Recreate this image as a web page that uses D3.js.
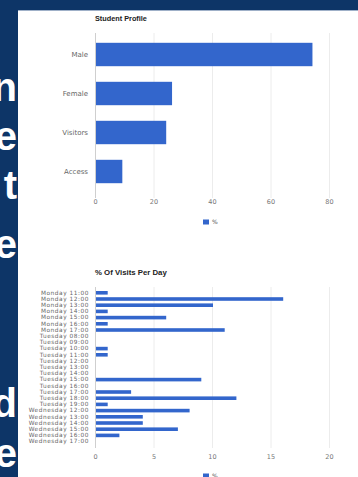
<!DOCTYPE html>
<html><head><meta charset="utf-8">
<script src="https://cdn.jsdelivr.net/npm/d3@7"></script>
<style>html,body{margin:0;padding:0;background:#0d3567;overflow:hidden}</style>
</head><body>
<svg id="c" width="358" height="477"></svg>
<script>
// ---- data ----
const profileCategories = ["Male", "Female", "Visitors", "Access"];
const profileValues = [74, 26, 24, 9];
const profileTicks = [0, 20, 40, 60, 80];

const visitLabels = [
  "Monday 11:00","Monday 12:00","Monday 13:00","Monday 14:00","Monday 15:00","Monday 16:00","Monday 17:00",
  "Tuesday 08:00","Tuesday 09:00","Tuesday 10:00","Tuesday 11:00","Tuesday 12:00","Tuesday 13:00","Tuesday 14:00",
  "Tuesday 15:00","Tuesday 16:00","Tuesday 17:00","Tuesday 18:00","Tuesday 19:00",
  "Wednesday 12:00","Wednesday 13:00","Wednesday 14:00","Wednesday 15:00","Wednesday 16:00","Wednesday 17:00"
];
const visitValues = [1,16,10,1,6,1,11, 0,0,1,1,0,0,0, 9,0,3,12,1, 8,4,4,7,2,0];
const visitTicks = [0, 5, 10, 15, 20];
const slideLetters = ["n","e","t","e","d","e"];
const slideBaselines = [101, 150, 199, 258, 417, 467];

const blue = "#3366cc";
const svg = d3.select("#c");
const FONT = "DejaVu Sans, Liberation Sans, Arial, sans-serif";

// slide background text fragments
svg.selectAll("text.slide").data(slideLetters).join("text")
  .attr("class","slide")
  .attr("x", 17).attr("y", (d,i)=>slideBaselines[i])
  .attr("text-anchor","end")
  .attr("font-family","Liberation Sans, Arial, sans-serif")
  .attr("font-weight","bold").attr("font-size", 40)
  .attr("fill","#ffffff").text(d=>d);

// white panel
svg.append("rect").attr("x",18).attr("y",10).attr("width",340).attr("height",467).attr("fill","#ffffff");
svg.append("line").attr("x1",18).attr("x2",358).attr("y1",10.5).attr("y2",10.5).attr("stroke","#9fb0c8").attr("stroke-width",1);

function chart(opts){
  const g = svg.append("g");
  const x = d3.scaleLinear().domain(opts.domain).range([95, 329]);
  const y = d3.scaleBand().domain(opts.cats).range(opts.yRange).paddingInner(opts.pad).paddingOuter(opts.pad/2);
  // gridlines
  g.selectAll("line.grid").data(opts.ticks).join("line")
    .attr("x1", d=>x(d)+0.5).attr("x2", d=>x(d)+0.5)
    .attr("y1", opts.gridY[0]).attr("y2", opts.gridY[1])
    .attr("stroke", d=> d===0 ? "#cfcfcf" : "#ececec").attr("stroke-width",1);
  // bars
  g.selectAll("rect.bar").data(opts.cats).join("rect")
    .attr("x", x(0)+1).attr("y", d=>y(d))
    .attr("width", (d,i)=>Math.max(0, x(opts.values[i]) - x(0)))
    .attr("height", y.bandwidth())
    .attr("fill", blue);
  // x axis labels
  const ax = d3.axisBottom(x).tickValues(opts.ticks).tickSize(0).tickPadding(0);
  const axG = g.append("g").attr("transform", `translate(0,${opts.axisY})`).call(ax);
  axG.select(".domain").remove();
  axG.selectAll("text").attr("fill","#777").attr("font-size",6.5).attr("font-family",FONT);
  // y axis labels
  const ay = d3.axisLeft(y).tickSize(0).tickPadding(0);
  const ayG = g.append("g").attr("transform", `translate(${opts.labelX},0)`).call(ay);
  ayG.select(".domain").remove();
  ayG.selectAll("text").attr("fill","#666").attr("font-size",opts.labelSize)
    .attr("letter-spacing", opts.spacing).attr("font-family",FONT);
  // title
  g.append("text").attr("x",95).attr("y",opts.titleY).attr("font-size",opts.titleSize).attr("font-weight","bold")
    .attr("font-family","Liberation Sans, Arial, sans-serif").attr("fill","#222").text(opts.title);
  // legend
  g.append("rect").attr("x",203).attr("y",opts.legendY-2.5).attr("width",6).attr("height",5).attr("fill",blue);
  g.append("text").attr("x",212).attr("y",opts.legendY+2).attr("font-size",6)
    .attr("font-family",FONT).attr("fill","#555").text("%");
}

chart({cats: profileCategories, values: profileValues, ticks: profileTicks, domain:[0,80],
  yRange:[35,191], pad:0.4, gridY:[33,198], axisY:199, labelX:88, labelSize:7, spacing:0,
  title:"Student Profile", titleSize:7.3, titleY:21, legendY:222});

chart({cats: visitLabels, values: visitValues, ticks: visitTicks, domain:[0,20],
  yRange:[289.7,444.7], pad:0.42, gridY:[287,448], axisY:454, labelX:89, labelSize:5.8, spacing:0.55,
  title:"% Of Visits Per Day", titleSize:7.8, titleY:275, legendY:476});
</script>
</body></html>
